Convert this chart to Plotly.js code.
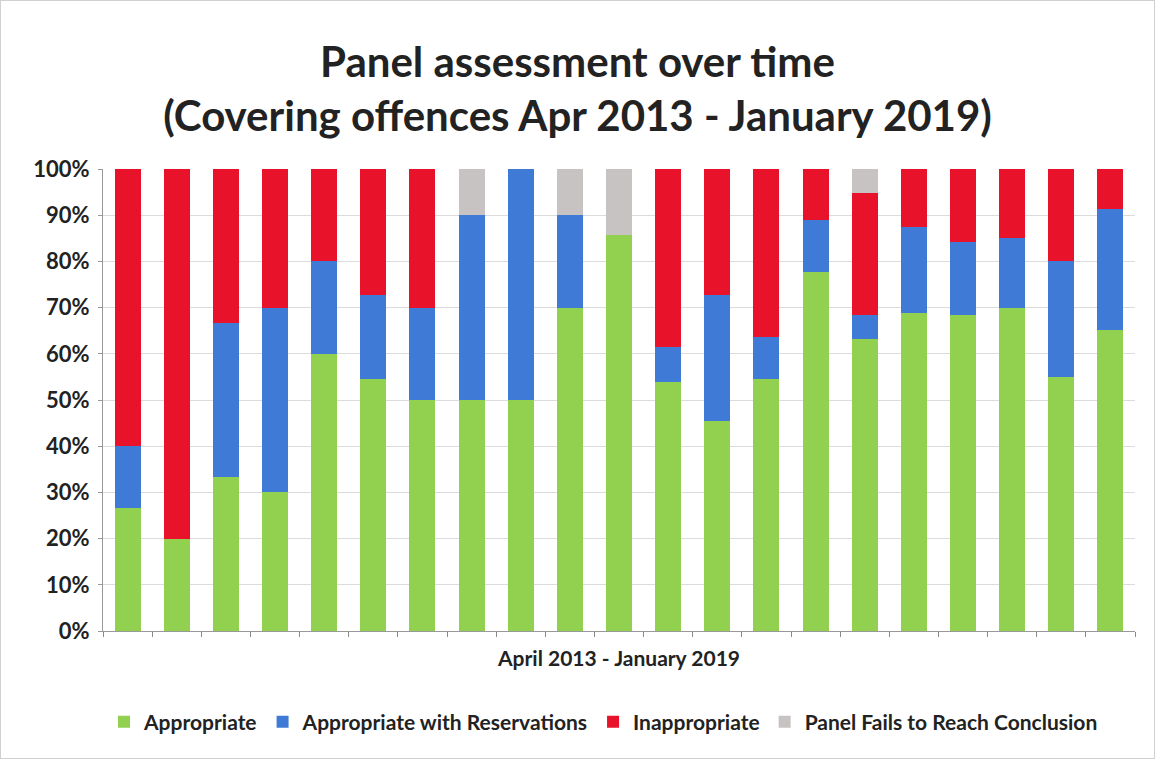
<!DOCTYPE html>
<html>
<head>
<meta charset="utf-8">
<script src="https://cdn.plot.ly/plotly-3.0.1.min.js"></script>
<style>
html,body{margin:0;padding:0;background:#fff;}
#chart{width:1153px;height:757px;border:1px solid #d0d0d0;}
</style>
</head>
<body>
<div id="chart"></div>
<script>
var periods = ["P1","P2","P3","P4","P5","P6","P7","P8","P9","P10","P11","P12","P13","P14","P15","P16","P17","P18","P19","P20","P21"];
var appropriate = [26.7,20,33.3,30,60,54.5,50,50,50,70,85.7,53.8,45.5,54.5,77.8,63.2,68.75,68.4,70,55,65.2];
var appropriateRes = [13.3,0,33.3,40,20,18.2,20,40,50,20,0,7.7,27.3,9.1,11.1,5.3,18.75,15.8,15,25,26.1];
var inappropriate = [60,80,33.4,30,20,27.3,30,0,0,0,0,38.5,27.2,36.4,11.1,26.2,12.5,15.8,15,20,8.7];
var noConclusion = [0,0,0,0,0,0,0,10,0,10,14.3,0,0,0,0,5.3,0,0,0,0,0];

var seriesNames = ["Appropriate","Appropriate with Reservations","Inappropriate","Panel Fails to Reach Conclusion"];
var seriesColors = ["#92d050","#3f7bd6","#e8132b","#c7c3c3"];
var seriesData = [appropriate, appropriateRes, inappropriate, noConclusion];

var traces = seriesData.map(function(vals, i){
  return {
    type:'bar',
    name: seriesNames[i],
    x: periods,
    y: vals.map(function(v){return v/100;}),
    marker:{color: seriesColors[i]},
    hoverinfo:'name+y'
  };
});

var font = "Lato, 'Open Sans', sans-serif";
var layout = {
  barmode:'stack',
  bargap:0.47,
  width:1153, height:757,
  paper_bgcolor:'#ffffff',
  plot_bgcolor:'#ffffff',
  margin:{l:102,r:19,t:168,b:127},
  title:{
    text:'Panel assessment over time<br>(Covering offences Apr 2013 - January 2019)',
    font:{family:font,size:42,color:'#222',weight:'bold'},
    x:0.5, xanchor:'center',
    y:0.90, yanchor:'middle'
  },
  xaxis:{
    type:'category',
    showticklabels:false,
    ticks:'outside', tickson:'boundaries', ticklen:5, tickcolor:'#888',
    showline:true, linecolor:'#999', linewidth:1,
    showgrid:false,
    title:{text:'April 2013 - January 2019', font:{family:font,size:21,color:'#222',weight:'bold'}, standoff:20},
    fixedrange:true
  },
  yaxis:{
    range:[0,1], tickformat:'.0%', dtick:0.1,
    tickfont:{family:font,size:22,color:'#222',weight:'bold'},
    showline:true, linecolor:'#999', linewidth:1,
    ticks:'outside', ticklen:4, tickcolor:'#999',
    ticklabelstandoff:4,
    gridcolor:'#dcdcdc', gridwidth:1,
    zeroline:false,
    fixedrange:true
  },
  legend:{
    orientation:'h', x:0.485, xanchor:'center', y:-0.197, yanchor:'middle',
    font:{family:font,size:21,color:'#222',weight:'bold'},
    itemwidth:14, tracegroupgap:0,
    traceorder:'normal'
  },
  showlegend:true
};

Plotly.newPlot('chart', traces, layout, {displayModeBar:false, staticPlot:true});
</script>
</body>
</html>
